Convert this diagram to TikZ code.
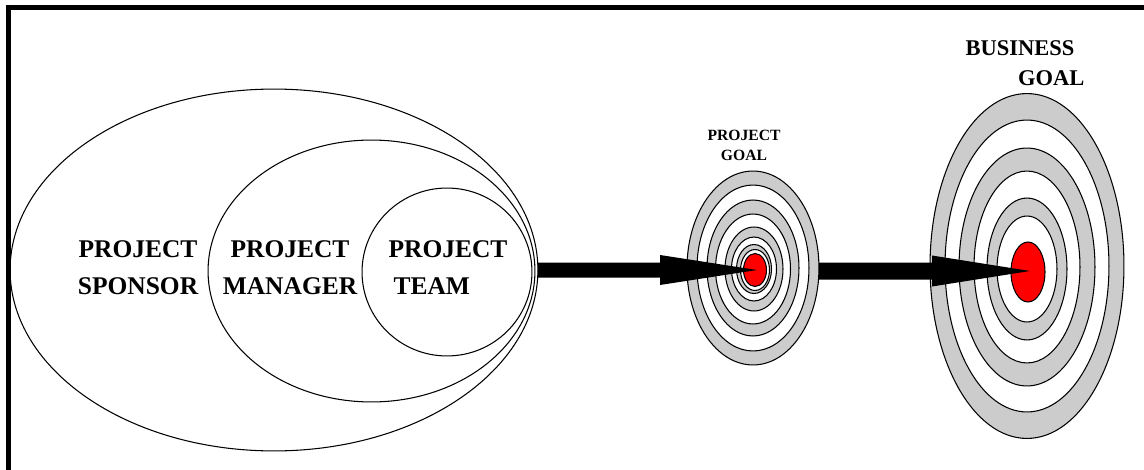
\documentclass[tikz,border=0pt]{standalone}
\usepackage{fontspec}
\setmainfont{Liberation Serif}
\usetikzlibrary{shapes.geometric,calc}
\definecolor{ringgrey}{RGB}{204,204,204}
\definecolor{bullred}{RGB}{255,0,0}
\begin{document}
\begin{tikzpicture}[x=0.02cm,y=-0.02cm,
  oval/.style 2 args={ellipse,draw=black,line width=0.6pt,inner sep=0pt,outer sep=0pt,
     minimum width=#1*0.04cm,minimum height=#2*0.04cm},
  gring/.style={fill=ringgrey},
  wring/.style={fill=white},
  bull/.style={fill=bullred},
  bigtext/.style={font=\fontsize{14.5}{21}\selectfont\bfseries,inner sep=0pt},
  smalltext/.style={font=\fontsize{8.9}{11.4}\selectfont\bfseries,inner sep=0pt,align=center},
  midtext/.style={font=\fontsize{12.8}{17}\selectfont\bfseries,inner sep=0pt,align=left},
  shaft/.style={fill=black}
]
\useasboundingbox (0,0) rectangle (1144,470);
% frame (top and left only)
\draw[line width=0.1cm] (8.5,470) -- (8.5,7.5) -- (1144,7.5);

% nested ellipses
\node[oval={264}{181}] (outer) at (274,270) {};
\node[oval={163.5}{131}] (middle) at (371.5,271) {};
\node[oval={85}{84}] (inner) at (447,272) {};

\node[bigtext,align=center] (sponsor) at (138,268) {PROJECT\\SPONSOR};
\node[bigtext,align=center] (manager) at (290,268) {PROJECT\\MANAGER};
\node[bigtext,align=left] (team) at (448,268) {PROJECT\\\hspace*{0.1cm}TEAM};

% small target
\node[oval={66}{97},gring] (s1) at (753,268) {};
\node[oval={56}{83},wring] (s2) at (753,268) {};
\node[oval={46}{68},gring] (s3) at (753,268) {};
\node[oval={37.5}{55},wring] (s4) at (753,269) {};
\node[oval={29}{42},gring] (s5) at (754,269) {};
\node[oval={22.5}{32},wring] (s6) at (754,269) {};
\node[oval={17.5}{24.5},gring] (s7) at (754,269) {};
\node[oval={14.5}{20.5},wring] (s8) at (755,270) {};
\node[oval={11.5}{16.5},bull] (sred) at (755,270) {};
\node[smalltext] (pgoal) at (744,145) {PROJECT\\GOAL};

% big target
\node[oval={97}{172.5},gring] (b1) at (1027,266) {};
\node[oval={82}{146},wring] (b2) at (1027,266) {};
\node[oval={68}{119},gring] (b3) at (1027,267) {};
\node[oval={53}{96},wring] (b4) at (1027,267) {};
\node[oval={40}{71},gring] (b5) at (1027,269) {};
\node[oval={30}{53},wring] (b6) at (1027,269) {};
\node[oval={17}{30},bull] (bred) at (1028,272) {};
\node[midtext] (bgoal) at (1025,63) {BUSINESS\\\hspace*{1.05cm}GOAL};

% arrow 1
\coordinate (tipA) at ($(sred.center)+(2,0)$);
\coordinate (headA) at ($(tipA)+(-97,0)$);
\fill[shaft] ($(outer.east)+(0,-7.5)$) -- ($(headA)+(0,-7.5)$) -- ($(headA)+(0,-15)$)
  -- (tipA) -- ($(headA)+(0,15)$) -- ($(headA)+(0,7.5)$) -- ($(outer.east)+(0,7.5)$) -- cycle;

% arrow 2
\coordinate (tipB) at ($(bred.center)+(2,-1)$);
\coordinate (headB) at ($(tipB)+(-98,0)$);
\coordinate (startB) at (s1.east |- tipB);
\fill[shaft] ($(startB)+(0,-8.5)$) -- ($(headB)+(0,-8.5)$) -- ($(headB)+(0,-15.5)$)
  -- (tipB) -- ($(headB)+(0,15.5)$) -- ($(headB)+(0,8.5)$) -- ($(startB)+(0,8.5)$) -- cycle;
\end{tikzpicture}
\end{document}
